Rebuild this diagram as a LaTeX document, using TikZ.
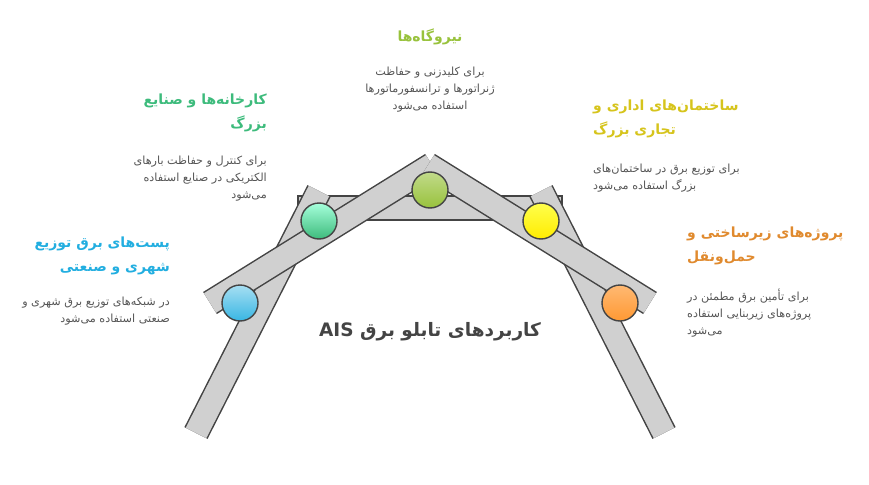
\documentclass[tikz,border=0pt]{standalone}
\usepackage{fontspec}
\setmainfont{DejaVu Sans}
\newfontfamily\fa[Script=Arabic]{DejaVu Sans}
\TeXXeTstate=1
\newcommand{\RL}[1]{\beginR #1\endR}
\definecolor{barf}{HTML}{D0D0D0}
\definecolor{bard}{HTML}{444444}
\definecolor{bodyc}{HTML}{555555}
\definecolor{cblue}{HTML}{22AEE0}
\definecolor{cgreen}{HTML}{3DBB7C}
\definecolor{clime}{HTML}{98C23C}
\definecolor{cyell}{HTML}{D6C41C}
\definecolor{corng}{HTML}{E08A2E}
\tikzset{
  head/.style={font=\fa\fontsize{14}{24}\selectfont\bfseries, inner sep=0pt},
  body/.style={font=\fa\fontsize{11.2}{17}\selectfont, text=bodyc, inner sep=0pt},
  joint/.style={circle, draw=bard, line width=1.4pt, minimum size=36pt, inner sep=0pt}
}
\newcommand{\drawbar}[2]{%
  \draw[bard, line width=26pt] (#1) -- (#2);
  \draw[barf, line width=23pt] (#1) -- (#2);}
\begin{document}
\begin{tikzpicture}[x=1pt,y=-1pt]
\useasboundingbox (0,0) rectangle (869,484);
\draw[bard, fill=barf, line width=1.5pt] (298,196) rectangle (562,220);
\coordinate (ll1) at (196,433); \coordinate (ll2) at (319,191);
\coordinate (rl1) at (664,433); \coordinate (rl2) at (541,191);
\coordinate (la1) at (210,303); \coordinate (la2) at (432,165);
\coordinate (ra1) at (650,303); \coordinate (ra2) at (428,165);
\drawbar{ll1}{ll2}
\drawbar{rl1}{rl2}
\drawbar{la1}{la2}
\drawbar{ra1}{ra2}
\node[joint, top color=cblue!40!white, bottom color=cblue!90!white] (jb) at (240,303) {};
\node[joint, top color=green!40!cyan!35!white, bottom color=cgreen] (jg) at (319,221) {};
\node[joint, top color=clime!60!white, bottom color=clime] (jl) at (430,190) {};
\node[joint, top color=yellow!70!white, bottom color=yellow!85!orange] (jy) at (541,221) {};
\node[joint, top color=orange!55!white, bottom color=orange!80!white] (jo) at (620,303) {};
\node[font=\fa\fontsize{18.5}{20}\selectfont\bfseries, text=bard] (title) at (430,332) {\RL{کاربردهای تابلو برق \beginL AIS\endL}};
\node[head, text=clime] (h1) at (430,37) {\RL{نیروگاه‌ها}};
\node[body, align=center, anchor=north] (b1) at (430,67) {\RL{برای کلیدزنی و حفاظت}\\\RL{ژنراتورها و ترانسفورماتورها}\\\RL{استفاده می‌شود}};
\node[head, text=cgreen, align=right, anchor=north east] (h2) at (267,94) {\RL{کارخانه‌ها و صنایع}\\\RL{بزرگ}};
\node[body, align=right, anchor=north east] (b2) at (267,156) {\RL{برای کنترل و حفاظت بارهای}\\\RL{الکتریکی در صنایع استفاده}\\\RL{می‌شود}};
\node[head, text=cblue, align=right, anchor=north east] (h3) at (170,237) {\RL{پست‌های برق توزیع}\\\RL{شهری و صنعتی}};
\node[body, align=right, anchor=north east] (b3) at (170,297) {\RL{در شبکه‌های توزیع برق شهری و}\\\RL{صنعتی استفاده می‌شود}};
\node[head, text=cyell, align=left, anchor=north west] (h4) at (593,100) {\RL{ساختمان‌های اداری و}\\\RL{تجاری بزرگ}};
\node[body, align=left, anchor=north west] (b4) at (593,164) {\RL{برای توزیع برق در ساختمان‌های}\\\RL{بزرگ استفاده می‌شود}};
\node[head, text=corng, align=left, anchor=north west] (h5) at (687,227) {\RL{پروژه‌های زیرساختی و}\\\RL{حمل‌ونقل}};
\node[body, align=left, anchor=north west] (b5) at (687,289) {\RL{برای تأمین برق مطمئن در}\\\RL{پروژه‌های زیربنایی استفاده}\\\RL{می‌شود}};
\end{tikzpicture}
\end{document}
